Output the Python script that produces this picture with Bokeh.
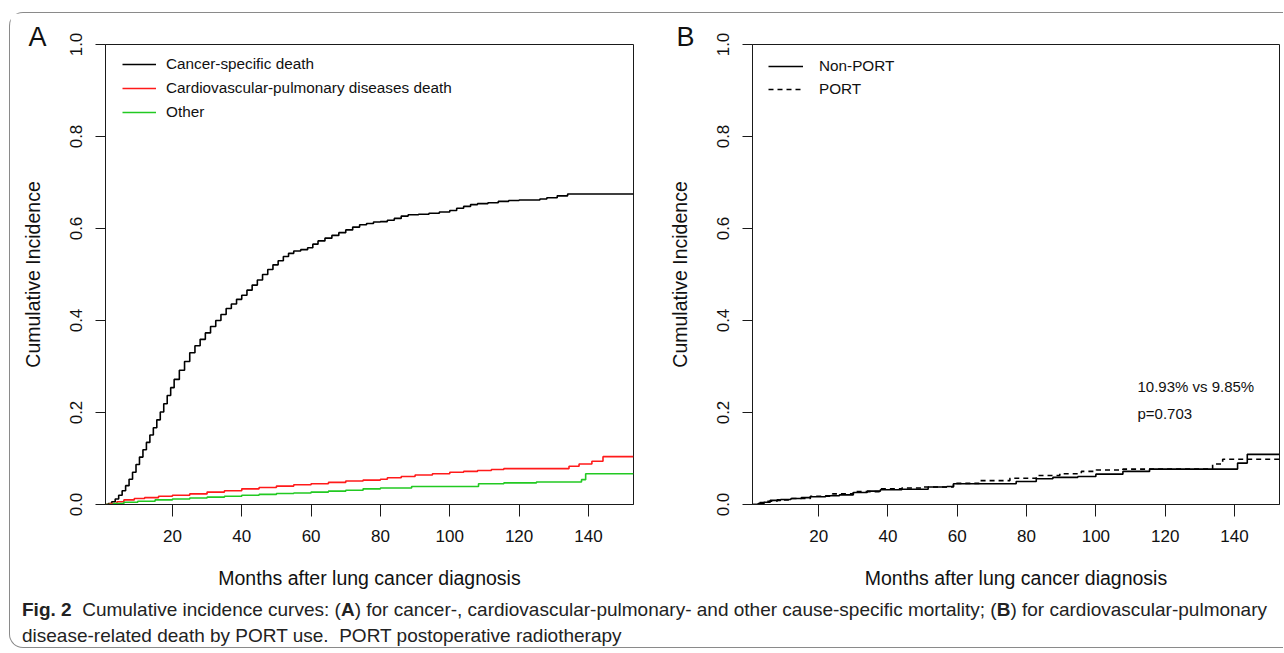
from bokeh.plotting import figure
from bokeh.models import (Legend, LegendItem, Label, FixedTicker, Div, Range1d,
                          PrintfTickFormatter, Title)
from bokeh.layouts import row, column
from bokeh.embed import file_html
from bokeh.resources import INLINE

FONT = "Liberation Sans"

# ---------------- data ----------------
# Panel A: cumulative incidence by cause of death
cs_months = [0.7, 1.5, 2.5, 3.5, 4.5, 5.5, 6.5, 7.5, 8.5, 9.5, 10.5, 11.5, 12.5, 13.5, 14.5,
             15.5, 16.5, 17.5, 18.5, 19.5, 20.5, 22, 23.5, 25, 26.5, 28, 29.5, 31, 32.5, 34,
             35.5, 37, 38.5, 40, 41.5, 43, 44.5, 46, 47.5, 49, 50.5, 52, 53.5, 55, 57, 59,
             60.5, 62, 64, 66, 68, 70, 72, 74, 76, 78, 80, 82, 84, 86, 88, 91, 94, 97, 100,
             102, 104, 106, 108, 111, 114, 117, 120, 126, 128, 131, 134, 153]
cs_cuminc = [0.0, 0.002, 0.006, 0.012, 0.020, 0.030, 0.041, 0.055, 0.070, 0.087, 0.103, 0.119,
             0.135, 0.151, 0.167, 0.184, 0.201, 0.219, 0.237, 0.254, 0.272, 0.292, 0.311, 0.330,
             0.345, 0.359, 0.373, 0.387, 0.400, 0.413, 0.426, 0.436, 0.446, 0.455, 0.466, 0.477,
             0.488, 0.500, 0.511, 0.521, 0.530, 0.539, 0.546, 0.551, 0.554, 0.558, 0.566, 0.573,
             0.579, 0.585, 0.591, 0.597, 0.603, 0.608, 0.611, 0.614, 0.615, 0.618, 0.622, 0.627,
             0.630, 0.631, 0.633, 0.636, 0.639, 0.644, 0.648, 0.652, 0.654, 0.656, 0.659, 0.661,
             0.662, 0.664, 0.667, 0.671, 0.675, 0.675]

cvp_months = [0.7, 2, 4, 6, 9, 12, 16, 20, 25, 30, 35, 40, 45, 50, 55, 60, 65, 70, 75, 80, 82,
              86, 90, 95, 100, 104, 108, 112, 115.6, 134.4, 137.3, 141, 144.2, 153]
cvp_cuminc = [0.0, 0.002, 0.006, 0.010, 0.013, 0.015, 0.018, 0.020, 0.023, 0.027, 0.030, 0.034,
              0.037, 0.040, 0.043, 0.045, 0.048, 0.051, 0.053, 0.055, 0.058, 0.061, 0.064, 0.067,
              0.070, 0.072, 0.074, 0.076, 0.078, 0.083, 0.088, 0.094, 0.104, 0.104]

oth_months = [0.7, 3, 6, 10, 15, 20, 25, 30, 35, 40, 45, 50, 55, 60, 65, 70, 75, 80, 89, 108.3,
              115.6, 125, 138, 139.2, 153]
oth_cuminc = [0.0, 0.002, 0.005, 0.007, 0.010, 0.012, 0.014, 0.016, 0.018, 0.020, 0.022, 0.024,
              0.025, 0.027, 0.029, 0.031, 0.034, 0.036, 0.039, 0.045, 0.047, 0.049, 0.054, 0.067,
              0.067]

# Panel B: cardiovascular-pulmonary death by PORT use
nonport_months = [0.9, 2.5, 4.2, 6, 9, 12, 15, 17.6, 22, 26, 30, 34, 37.8, 44, 51.6, 57, 58.9,
                  77, 82.8, 87.6, 94.8, 100, 107.8, 115.5, 140.9, 143.7, 153]
nonport_cuminc = [0.0, 0.002, 0.005, 0.009, 0.011, 0.013, 0.015, 0.017, 0.019, 0.021, 0.026,
                  0.029, 0.032, 0.033, 0.038, 0.039, 0.045, 0.050, 0.056, 0.059, 0.061, 0.066,
                  0.072, 0.077, 0.090, 0.109, 0.109]

port_months = [0.9, 3, 4.5, 8, 12, 17.6, 24, 30, 37.8, 44, 50.2, 58.9, 66.5, 75.2, 82.8, 89.6,
               95.8, 100.1, 107.8, 133.7, 136.6, 153]
port_cuminc = [0.0, 0.004, 0.007, 0.010, 0.013, 0.018, 0.023, 0.028, 0.034, 0.036, 0.038, 0.046,
               0.052, 0.057, 0.063, 0.067, 0.072, 0.075, 0.077, 0.088, 0.0985, 0.0985]

x_ticks = [20, 40, 60, 80, 100, 120, 140]
y_ticks = [0.0, 0.2, 0.4, 0.6, 0.8, 1.0]
panel_letters = ["A", "B"]
legend_a = ["Cancer-specific death", "Cardiovascular-pulmonary diseases death", "Other"]
legend_b = ["Non-PORT", "PORT"]
x_title = "Months after lung cancer diagnosis"
y_title = "Cumulative Incidence"
annot_b = ["10.93% vs 9.85%", "p=0.703"]
caption_html = ('<b>Fig. 2</b>&nbsp; Cumulative incidence curves: (<b>A</b>) for cancer-, '
                'cardiovascular-pulmonary- and other cause-specific mortality; (<b>B</b>) for '
                'cardiovascular-pulmonary<br>disease-related death by PORT use.&nbsp; PORT '
                'postoperative radiotherapy')

INK = "#1a1a1a"


def style(p):
    p.outline_line_color = INK
    p.outline_line_width = 1
    p.outline_line_alpha = 1
    p.xgrid.visible = False
    p.ygrid.visible = False
    p.background_fill_color = "white"
    p.border_fill_color = "white"
    for ax in (p.xaxis[0], p.yaxis[0]):
        ax.axis_line_color = INK
        ax.major_tick_line_color = INK
        ax.minor_tick_line_color = None
        ax.major_tick_in = 0
        ax.major_label_text_font = FONT
        ax.major_label_text_font_size = "17px"
        ax.major_label_text_color = "#111111"
        ax.axis_label_text_font = FONT
        ax.axis_label_text_font_size = "19.5px"
        ax.axis_label_text_font_style = "normal"
        ax.axis_label_text_color = "#111111"
    p.xaxis.ticker = FixedTicker(ticks=x_ticks)
    p.yaxis.ticker = FixedTicker(ticks=y_ticks)
    p.yaxis.formatter = PrintfTickFormatter(format="%.1f")
    p.xaxis.major_tick_out = 12
    p.xaxis.major_label_standoff = 13
    p.xaxis.axis_label_standoff = 22
    p.yaxis.major_tick_out = 10
    p.yaxis.major_label_standoff = 14
    p.yaxis.major_label_orientation = "parallel"
    p.yaxis.axis_label_standoff = 23
    p.xaxis.axis_label = x_title
    p.yaxis.axis_label = y_title


def letter(text, offset):
    return Title(text=text, align="left", offset=offset, standoff=-14, vertical_align="bottom",
                 text_font=FONT, text_font_size="27px", text_font_style="normal",
                 text_color="#111111")


# ---------------- Panel A ----------------
pA = figure(width=650, height=584, x_range=Range1d(0.7, 153), y_range=Range1d(0, 1),
            output_backend="svg", toolbar_location=None,
            min_border_left=95, min_border_right=27, min_border_top=31, min_border_bottom=93)
style(pA)
pA.title = letter(panel_letters[0], -77)
rA1 = pA.step(cs_months, cs_cuminc, mode="after", line_color="black", line_width=1.6)
rA2 = pA.step(cvp_months, cvp_cuminc, mode="after", line_color="#ff1a1a", line_width=1.6)
rA3 = pA.step(oth_months, oth_cuminc, mode="after", line_color="#22c922", line_width=1.6)
legA = Legend(items=[LegendItem(label=legend_a[0], renderers=[rA1]),
                     LegendItem(label=legend_a[1], renderers=[rA2]),
                     LegendItem(label=legend_a[2], renderers=[rA3])],
              location=(17, 382), border_line_color=None, background_fill_alpha=0,
              padding=0, margin=0, spacing=4, label_height=20, glyph_height=20,
              glyph_width=34, label_standoff=10, label_text_font=FONT,
              label_text_font_size="15.3px", label_text_color="#111111")
pA.add_layout(legA)

# ---------------- Panel B ----------------
pB = figure(width=623, height=584, x_range=Range1d(0.9, 153), y_range=Range1d(0, 1),
            output_backend="svg", toolbar_location=None,
            min_border_left=92, min_border_right=4, min_border_top=31, min_border_bottom=92)
style(pB)
pB.title = letter(panel_letters[1], -76)
rB1 = pB.step(nonport_months, nonport_cuminc, mode="after", line_color="black", line_width=1.6)
rB2 = pB.step(port_months, port_cuminc, mode="after", line_color="black", line_width=1.6,
              line_dash="5 4")
legB = Legend(items=[LegendItem(label=legend_b[0], renderers=[rB1]),
                     LegendItem(label=legend_b[1], renderers=[rB2])],
              location=(16, 405), border_line_color=None, background_fill_alpha=0,
              padding=0, margin=0, spacing=3, label_height=20, glyph_height=20,
              glyph_width=35, label_standoff=16, label_text_font=FONT,
              label_text_font_size="15.3px", label_text_color="#111111")
pB.add_layout(legB)
pB.add_layout(Label(x=112.0, y=0.256, text=annot_b[0], text_font=FONT, text_font_size="15px",
                    text_align="left", text_baseline="middle", text_color="#111111"))
pB.add_layout(Label(x=112.0, y=0.197, text=annot_b[1], text_font=FONT, text_font_size="15px",
                    text_align="left", text_baseline="middle", text_color="#111111"))

# ---------------- caption ----------------
cap = Div(text=('<div style="font-family: \'Liberation Sans\', Arial, sans-serif; '
                'font-size: 19px; line-height: 26px; padding-left: 12px; '
                'white-space: nowrap; color: #222222;">' + caption_html + '</div>'),
          width=1273, height=50, margin=(0, 0, 0, 0))

layout = column(row(pA, pB), cap, margin=(12, 0, 0, 9),
                styles={"border-top": "1px solid #8a8a8a", "border-left": "1px solid #8a8a8a",
                        "border-bottom": "1px solid #8a8a8a",
                        "border-radius": "14px 0 0 14px"})

open("out.html", "w").write(file_html(layout, INLINE))
